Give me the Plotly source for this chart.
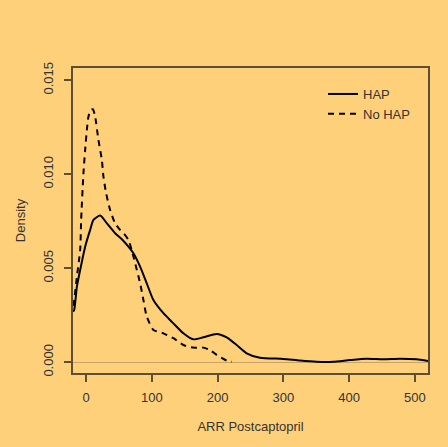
import plotly.graph_objects as go

# Kernel density estimates of ARR after captopril, by HAP status
arr_hap = [-20, -18.2, -14.1, -9.1, -1.5, 6.1, 11.1, 21.3, 31.5, 44.1, 54.3, 64.3, 71.9,
           82.1, 92.2, 102.3, 117.5, 132.7, 147.9, 163.1, 178.3, 198.6, 213.8, 229.0,
           244.2, 264.4, 299.8, 325.2, 350.6, 375.8, 401.2, 426.6, 451.8, 477.2, 502.6, 520]
dens_hap = [0.00270, 0.00278, 0.00402, 0.00491, 0.00615, 0.00704, 0.00757, 0.00780, 0.00739,
            0.00686, 0.00654, 0.00615, 0.00580, 0.00509, 0.00420, 0.00331, 0.00261, 0.00207,
            0.00154, 0.00122, 0.00133, 0.00151, 0.00133, 0.00092, 0.00048, 0.00024, 0.00018,
            0.00009, 0.00003, 0.00003, 0.00012, 0.00019, 0.00016, 0.00019, 0.00016, 0.00007]

arr_nohap = [-20, -18.2, -14.1, -9.1, -7.6, -4.1, -1.5, 1.1, 3.5, 7.1, 10.2, 13.7, 18.7,
             23.9, 26.3, 30.4, 36.5, 44.1, 51.7, 56.7, 64.3, 71.9, 82.1, 87.1, 92.2, 102.3,
             117.5, 132.7, 147.9, 163.1, 178.3, 188.4, 198.6, 213.8, 221.4]
dens_nohap = [0.00300, 0.00331, 0.00455, 0.00597, 0.00757, 0.01005, 0.01130, 0.01236, 0.01306,
              0.01342, 0.01346, 0.01306, 0.01182, 0.01076, 0.00987, 0.00899, 0.00810, 0.00739,
              0.00704, 0.00688, 0.00651, 0.00562, 0.00420, 0.00331, 0.00243, 0.00172, 0.00154,
              0.00128, 0.00092, 0.00078, 0.00078, 0.00065, 0.00039, 0.00009, 0.00003]

x_ticks = [0, 100, 200, 300, 400, 500]
x_tick_labels = ["0", "100", "200", "300", "400", "500"]
y_ticks = [0.0, 0.005, 0.010, 0.015]
y_tick_labels = ["0.000", "0.005", "0.010", "0.015"]

BG = "#FFD07A"
INK = "#5E4E34"
TEXT = "#333333"
FONT = "Liberation Sans, Arial, Helvetica, sans-serif"
FS = 13

W, H = 448, 447
ML, MR, MT, MB = 73, 20, 68, 74
PW, PH = W - ML - MR, H - MT - MB


def px_x(p):
    return (p - ML) / PW


def px_y(p):
    return (H - MB - p) / PH


fig = go.Figure()
fig.add_trace(go.Scatter(
    x=arr_hap, y=dens_hap, mode="lines", name="HAP",
    line=dict(color="black", width=2, shape="spline", smoothing=0.6),
))
fig.add_trace(go.Scatter(
    x=arr_nohap, y=dens_nohap, mode="lines", name="No HAP",
    line=dict(color="black", width=2, dash="6px,5px", shape="spline", smoothing=0.6),
))

fig.update_layout(
    width=W, height=H, autosize=False,
    margin=dict(l=ML, r=MR, t=MT, b=MB, pad=0, autoexpand=False),
    paper_bgcolor=BG, plot_bgcolor=BG,
    font=dict(family=FONT, size=FS, color=TEXT),
    showlegend=True,
    legend=dict(x=px_x(323), y=px_y(79), xanchor="left", yanchor="top",
                bgcolor="rgba(0,0,0,0)", borderwidth=0, itemwidth=30,
                font=dict(family=FONT, size=FS, color=TEXT), tracegroupgap=0),
    xaxis=dict(
        range=[-20, 520], tickmode="array", tickvals=x_ticks, ticktext=x_tick_labels,
        ticks="outside", ticklen=7, tickwidth=1.5, tickcolor=INK, ticklabelstandoff=5,
        tickfont=dict(family=FONT, size=FS, color=TEXT),
        showline=True, linecolor=INK, linewidth=1.5, mirror=True,
        showgrid=False, zeroline=False,
        title=dict(text="ARR Postcaptopril", standoff=18,
                   font=dict(family=FONT, size=FS, color=TEXT)),
        automargin=False,
    ),
    yaxis=dict(
        range=[-0.00057, 0.01565], tickmode="array", tickvals=y_ticks, ticktext=y_tick_labels,
        ticks="outside", ticklen=7, tickwidth=1.5, tickcolor=INK, tickangle=-90,
        ticklabelstandoff=6,
        tickfont=dict(family=FONT, size=FS, color=TEXT),
        showline=True, linecolor=INK, linewidth=1.5, mirror=True,
        showgrid=False, zeroline=True, zerolinecolor="#C9A468", zerolinewidth=1,
        title=dict(text="Density", standoff=12,
                   font=dict(family=FONT, size=FS, color=TEXT)),
        automargin=False,
    ),
)

fig.write_html("out.html")
